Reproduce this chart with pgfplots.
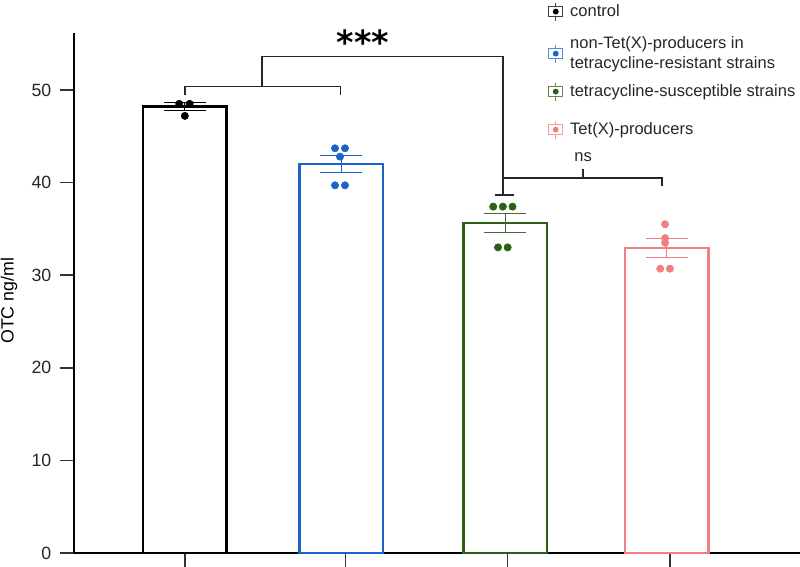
\documentclass[border=0pt]{standalone}
\usepackage{fontspec}
\setmainfont{Liberation Sans}
\newfontfamily\dejavu{DejaVu Sans}
\usepackage{pgfplots}
\pgfplotsset{compat=1.18}
\definecolor{cblue}{RGB}{26,102,200}
\definecolor{cgreen}{RGB}{45,95,23}
\definecolor{cred}{RGB}{240,128,128}
\newcommand\lglyph[1]{\tikz[baseline={(0pt,-3.3pt)}]{%
  \draw[#1!75, line width=0.7pt, fill=white] (0pt,-3.75pt) rectangle (10.5pt,3.75pt);
  \draw[#1!75, line width=0.7pt] (5.25pt,-6.75pt) -- (5.25pt,-3.75pt) (5.25pt,3.75pt) -- (5.25pt,6.75pt);
  \fill[#1] (5.25pt,0pt) circle (2.2pt);}}
\begin{document}
\begin{tikzpicture}
\begin{axis}[
  name=ax,
  scale only axis, width=544.5pt, height=390pt,
  xmin=-0.69, xmax=3.83, ymin=0, ymax=56.15,
  axis x line*=bottom, axis y line*=left,
  axis line style={-, line width=1.6pt, black},
  xtick={0,1,2.01,3.02}, xticklabels={},
  ytick={0,10,20,30,40,50},
  tick align=outside, major tick length=10.5pt,
  tick style={line width=1.1pt, black!80},
  /pgf/number format/assume math mode=true,
  ticklabel style={font=\fontsize{13.3}{16}\selectfont, text=black!85},
  yticklabel style={xshift=-3pt},
  ylabel={OTC ng/ml},
  every axis y label/.style={at={(rel axis cs:0,0.485)}, xshift=-48.75pt, rotate=90, anchor=center, font=\fontsize{13.3}{16}\selectfont},
  clip=false,
]
% bars with SEM
\addplot[ybar, bar width=0.52, bar shift=0pt, draw=black, fill=white, line width=1.9pt,
  error bars/.cd, y dir=both, y explicit, error bar style={line width=0.9pt, black},
  error mark options={line width=0.9pt, black, mark size=15.75pt, rotate=90}]
  coordinates {(0,48.2) +- (0,0.45)};
\addplot[ybar, bar width=0.52, bar shift=0pt, draw=cblue, fill=white, line width=1.9pt,
  error bars/.cd, y dir=both, y explicit, error bar style={line width=0.9pt, cblue},
  error mark options={line width=0.9pt, cblue, mark size=15.75pt, rotate=90}]
  coordinates {(0.975,42.0) +- (0,0.95)};
\addplot[ybar, bar width=0.52, bar shift=0pt, draw=cgreen, fill=white, line width=1.9pt,
  error bars/.cd, y dir=both, y explicit, error bar style={line width=0.9pt, cgreen!70!gray},
  error mark options={line width=0.9pt, cgreen!70!gray, mark size=15.75pt, rotate=90}]
  coordinates {(1.995,35.65) +- (0,1.05)};
\addplot[ybar, bar width=0.52, bar shift=0pt, draw=cred, fill=white, line width=1.9pt,
  error bars/.cd, y dir=both, y explicit, error bar style={line width=0.9pt, cred},
  error mark options={line width=0.9pt, cred, mark size=15.75pt, rotate=90}]
  coordinates {(3.0,32.95) +- (0,1.05)};
% individual points
\addplot[only marks, mark=*, mark size=2.75pt, black]
  coordinates {(-0.035,48.5) (0.03,48.5) (0.0,47.2)};
\addplot[only marks, mark=*, mark size=2.75pt, cblue]
  coordinates {(0.935,43.7) (0.997,43.7) (0.966,42.8) (0.935,39.7) (0.997,39.7)};
\addplot[only marks, mark=*, mark size=2.75pt, cgreen]
  coordinates {(1.92,37.4) (1.98,37.4) (2.04,37.4) (1.95,33.0) (2.01,33.0)};
\addplot[only marks, mark=*, mark size=2.75pt, cred]
  coordinates {(2.99,35.5) (2.99,34.0) (2.99,33.5) (2.96,30.7) (3.02,30.7)};
% legend
\node[anchor=north west, inner sep=0pt, font=\fontsize{12.4}{15}\selectfont, text=black!85]
  at (rel axis cs:0.6529,1.0601) {%
  \begin{tabular}{@{}c@{\hspace{5.25pt}}l@{}}
  \lglyph{black} & control\\[9pt]
  \raisebox{-7.5pt}[0pt][0pt]{\lglyph{cblue}} & non-Tet(X)-producers in\\
   & tetracycline-resistant strains\\[6pt]
  \lglyph{cgreen} & tetracycline-susceptible strains\\[13.5pt]
  \lglyph{cred} & Tet(X)-producers
  \end{tabular}};
% significance brackets
\draw[line width=1.1pt, black!85] (axis cs:0,49.5) -- (axis cs:0,50.36) -- (axis cs:0.97,50.36) -- (axis cs:0.97,49.5);
\draw[line width=1.1pt, black!85] (axis cs:0.48,50.36) -- (axis cs:0.48,53.6) -- (axis cs:1.98,53.6) -- (axis cs:1.98,38.66);
\draw[line width=1.1pt, black!85] (axis cs:1.93,38.66) -- (axis cs:2.05,38.66);
\draw[line width=1.1pt, black!85] (axis cs:1.98,40.5) -- (axis cs:2.97,40.5) -- (axis cs:2.97,39.6);
\draw[line width=1.1pt, black!85] (axis cs:2.48,40.5) -- (axis cs:2.48,41.5);
\node[font=\dejavu\bfseries\fontsize{25}{30}\selectfont, inner sep=0pt] at (axis cs:1.109,55.2) {***};
\node[font=\fontsize{12.4}{15}\selectfont, inner sep=0pt, text=black!85] at (axis cs:2.48,42.76) {ns};
\end{axis}
\pgfresetboundingbox
\path (ax.south west) ++(-55.5pt,-10.5pt) rectangle ++(600pt,425.25pt);
\end{tikzpicture}
\end{document}
